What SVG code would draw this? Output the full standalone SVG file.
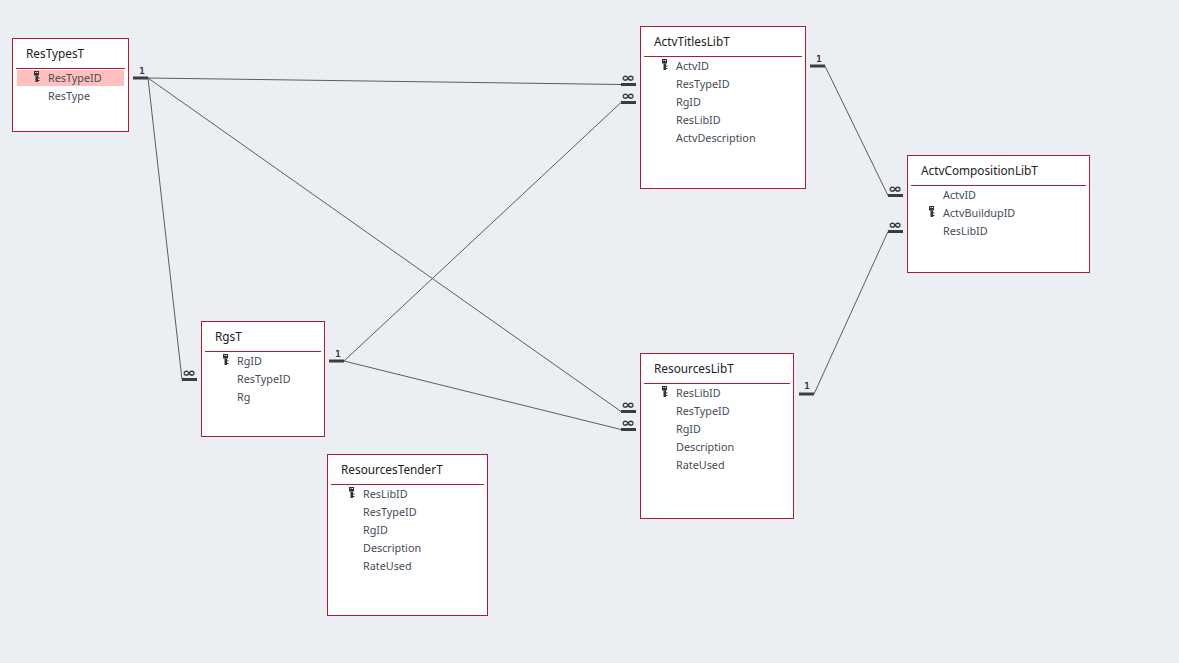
<svg xmlns="http://www.w3.org/2000/svg" width="1179" height="663" viewBox="0 0 1179 663">
<style>
.box{fill:#fff;stroke:#b01c35;stroke-width:1}
.rule{stroke:#b01c35;stroke-width:1}
.title{font:11.8px "Noto Sans","Open Sans",sans-serif;fill:#222}
.f{font:10.8px "Noto Sans","Open Sans",sans-serif;fill:#444c58}
.ln{fill:none;stroke:#5c5c5c;stroke-width:1}
.stub{stroke:#3c3c3c;stroke-width:3}
.one{font:bold 9px "DejaVu Sans Mono",monospace;fill:#333;text-anchor:middle}
.inf{font:bold 13px "DejaVu Sans",sans-serif;fill:#333}
</style>
<defs>
<g id="key"><rect x="-2.500" y="0" width="5" height="4.500" fill="#333"/><rect x="-1" y="4.500" width="2.500" height="6.500" fill="#333"/><rect x="1.500" y="6.500" width="1.500" height="1" fill="#333"/><rect x="1.500" y="9" width="1.500" height="1" fill="#333"/><rect x="-1.200" y="1" width="1" height="1" fill="#fff"/><rect x="0.500" y="1" width="1" height="1" fill="#fff"/></g>
</defs>
<rect width="1179" height="663" fill="#ebeff3"/>
<g id="connectors">
<path class="ln" d="M148 78L621 84.500"/>
<path class="ln" d="M148 78L621 411.500"/>
<path class="ln" d="M148 78L182 379.500"/>
<path class="ln" d="M344 361L621 102.500"/>
<path class="ln" d="M344 361L621 429.500"/>
<path class="ln" d="M825 66L888 195.500"/>
<path class="ln" d="M814 394L888 231.500"/>
<path class="stub" d="M133 78H148M621 84.500H636M621 102.500H636M182 379.500H197M329 361H344M621 411.500H636M621 429.500H636M810 66H825M888 195.500H903M888 231.500H903M799 394H814"/>
<text class="one" x="142" y="74">1</text>
<text class="one" x="338" y="357">1</text>
<text class="one" x="819" y="62">1</text>
<text class="one" x="807" y="389">1</text>
<text class="inf" x="621" y="82" textLength="14" lengthAdjust="spacingAndGlyphs">∞</text>
<text class="inf" x="621" y="100" textLength="14" lengthAdjust="spacingAndGlyphs">∞</text>
<text class="inf" x="182" y="377" textLength="14" lengthAdjust="spacingAndGlyphs">∞</text>
<text class="inf" x="621" y="409" textLength="14" lengthAdjust="spacingAndGlyphs">∞</text>
<text class="inf" x="621" y="427" textLength="14" lengthAdjust="spacingAndGlyphs">∞</text>
<text class="inf" x="888" y="193" textLength="14" lengthAdjust="spacingAndGlyphs">∞</text>
<text class="inf" x="888" y="229" textLength="14" lengthAdjust="spacingAndGlyphs">∞</text>
</g>
<g id="ResTypesT">
<rect class="box" x="12.500" y="38.500" width="116" height="93"/>
<path class="rule" d="M16 68.500H125"/>
<rect x="17" y="70" width="107" height="16" fill="#ffbfbf"/>
<text class="title" x="26" y="58">ResTypesT</text>
<use href="#key" x="36.500" y="71"/>
<text class="f" x="48" y="82">ResTypeID</text>
<text class="f" x="48" y="100">ResType</text>
</g>
<g id="ActvTitlesLibT">
<rect class="box" x="640.500" y="26.500" width="165" height="162"/>
<path class="rule" d="M644 56.500H802"/>
<text class="title" x="654" y="46">ActvTitlesLibT</text>
<use href="#key" x="664.500" y="59"/>
<text class="f" x="676" y="70">ActvID</text>
<text class="f" x="676" y="88">ResTypeID</text>
<text class="f" x="676" y="106">RgID</text>
<text class="f" x="676" y="124">ResLibID</text>
<text class="f" x="676" y="142">ActvDescription</text>
</g>
<g id="ActvCompositionLibT">
<rect class="box" x="907.500" y="155.500" width="182" height="117"/>
<path class="rule" d="M911 185.500H1086"/>
<text class="title" x="921" y="175">ActvCompositionLibT</text>
<use href="#key" x="931.500" y="206"/>
<text class="f" x="943" y="199">ActvID</text>
<text class="f" x="943" y="217">ActvBuildupID</text>
<text class="f" x="943" y="235">ResLibID</text>
</g>
<g id="RgsT">
<rect class="box" x="201.500" y="321.500" width="123" height="115"/>
<path class="rule" d="M205 351.500H321"/>
<text class="title" x="215" y="341">RgsT</text>
<use href="#key" x="225.500" y="354"/>
<text class="f" x="237" y="365">RgID</text>
<text class="f" x="237" y="383">ResTypeID</text>
<text class="f" x="237" y="401">Rg</text>
</g>
<g id="ResourcesLibT">
<rect class="box" x="640.500" y="353.500" width="153" height="165"/>
<path class="rule" d="M644 383.500H790"/>
<text class="title" x="654" y="373">ResourcesLibT</text>
<use href="#key" x="664.500" y="386"/>
<text class="f" x="676" y="397">ResLibID</text>
<text class="f" x="676" y="415">ResTypeID</text>
<text class="f" x="676" y="433">RgID</text>
<text class="f" x="676" y="451">Description</text>
<text class="f" x="676" y="469">RateUsed</text>
</g>
<g id="ResourcesTenderT">
<rect class="box" x="327.500" y="454.500" width="160" height="161"/>
<path class="rule" d="M331 484.500H484"/>
<text class="title" x="341" y="474">ResourcesTenderT</text>
<use href="#key" x="351.500" y="487"/>
<text class="f" x="363" y="498">ResLibID</text>
<text class="f" x="363" y="516">ResTypeID</text>
<text class="f" x="363" y="534">RgID</text>
<text class="f" x="363" y="552">Description</text>
<text class="f" x="363" y="570">RateUsed</text>
</g>
</svg>
